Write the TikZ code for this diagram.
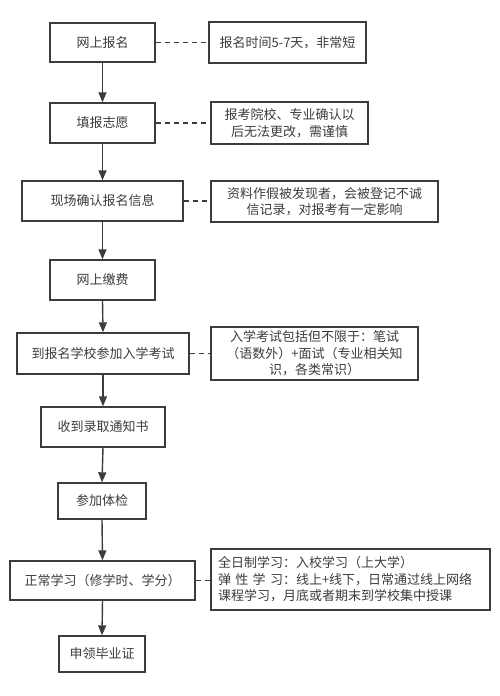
\documentclass[tikz,border=0pt]{standalone}
\usepackage{fontspec}
\setmainfont{Noto Sans CJK SC}
\usetikzlibrary{arrows.meta}
\definecolor{inkgray}{HTML}{3C3C3C}
\tikzset{
    stepbox/.style={draw=inkgray, line width=1.4pt, text=inkgray, font=\fontsize{13}{16.5}\selectfont, inner sep=0pt},
    notebox/.style={stepbox, align=center},
    flow/.style={draw=inkgray, line width=1.4pt, -{Triangle[length=10pt,width=8pt]}},
    hint/.style={draw=inkgray, line width=1.4pt, dash pattern=on 5pt off 4pt}
}
\begin{document}
\begin{tikzpicture}[x=1pt, y=-1pt]

    %frame:
    \useasboundingbox (0,0) rectangle (500,696);

    %main steps:
    \node[stepbox, minimum width=105pt, minimum height=39pt] (signup)  at (102.5,42.5) {网上报名};
    \node[stepbox, minimum width=105pt, minimum height=40pt] (wish)    at (102.5,123)  {填报志愿};
    \node[stepbox, minimum width=161pt, minimum height=40pt] (confirm) at (102.5,201)  {现场确认报名信息};
    \node[stepbox, minimum width=105pt, minimum height=40pt] (pay)     at (102.5,280)  {网上缴费};
    \node[stepbox, minimum width=172pt, minimum height=41pt] (exam)    at (103,353.5)  {到报名学校参加入学考试};
    \node[stepbox, minimum width=124pt, minimum height=40pt] (notice)  at (103,427)    {收到录取通知书};
    \node[stepbox, minimum width=88pt,  minimum height=36pt] (health)  at (102,501)    {参加体检};
    \node[stepbox, minimum width=185pt, minimum height=39pt] (study)   at (102.5,580.5) {正常学习（修学时、学分）};
    \node[stepbox, minimum width=86pt,  minimum height=36pt] (diploma) at (102,654)    {申领毕业证};

    %side notes:
    \node[notebox, minimum width=157pt, minimum height=41pt] (n1) at (287.5,42.5) {报名时间5-7天，非常短};
    \node[notebox, minimum width=157pt, minimum height=42pt] (n2) at (289.5,123)  {报考院校、专业确认以\\后无法更改，需谨慎};
    \node[notebox, minimum width=227pt, minimum height=41pt] (n3) at (324.5,201.5) {资料作假被发现者，会被登记不诚\\信记录，对报考有一定影响};
    \node[notebox, minimum width=207pt, minimum height=53pt] (n5) at (314.5,353.5) {入学考试包括但不限于：笔试\\（语数外）+面试（专业相关知\\识，各类常识）};
    \node[notebox, align=left, text width=265pt, minimum width=279pt, minimum height=61pt] (n8) at (350.5,579.5)
        {全日制学习：入校学习（上大学）\\弹\,\,性\,\,学\,\,习：线上+线下，日常通过线上网络\\课程学习，月底或者期末到学校集中授课};

    %arrows:
    \foreach \a/\b in {signup/wish, wish/confirm, confirm/pay, pay/exam, exam/notice, notice/health, health/study, study/diploma}
        \draw[flow] (\a.south) -- (\b.north);

    %dashed links:
    \foreach \a/\b in {signup/n1, wish/n2, confirm/n3, exam/n5, study/n8}
        \draw[hint] (\a.east) -- (\a.east -| \b.west);

\end{tikzpicture}
\end{document}
